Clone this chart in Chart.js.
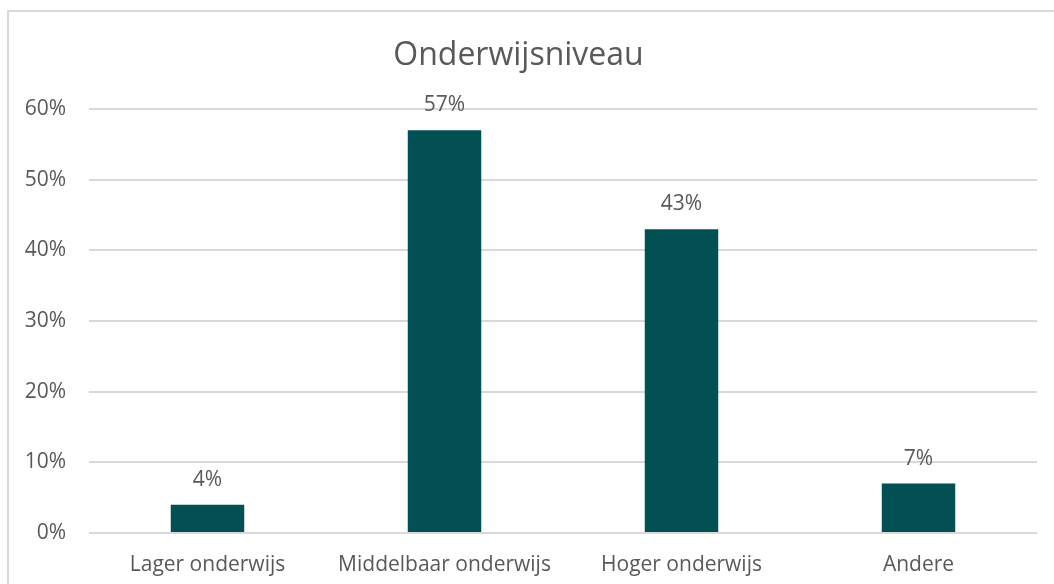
<!DOCTYPE html>
<html>
<head>
<meta charset="utf-8">
<script src="https://cdn.jsdelivr.net/npm/chart.js@4/dist/chart.umd.min.js"></script>
<style>
html,body{margin:0;padding:0;background:#fff;}
#wrap{position:relative;width:1054px;height:584px;}
</style>
</head>
<body>
<div id="wrap"><canvas id="c" width="1054" height="584"></canvas></div>
<script>
const categories = ["Lager onderwijs", "Middelbaar onderwijs", "Hoger onderwijs", "Andere"];
const values = [4, 57, 43, 7];
const yTicks = [0, 10, 20, 30, 40, 50, 60];
const chartTitle = "Onderwijsniveau";

const textColor = '#595959';
const fontFamily = '"Open Sans", "Liberation Sans", sans-serif';

const borderPlugin = {
  id: 'frame',
  beforeDraw(chart) {
    const ctx = chart.ctx;
    ctx.save();
    ctx.fillStyle = '#fff';
    ctx.fillRect(0, 0, chart.width, chart.height);
    ctx.strokeStyle = '#d9d9d9';
    ctx.lineWidth = 2;
    ctx.strokeRect(8, 11, 1200, 800);
    ctx.restore();
  }
};

const labelPlugin = {
  id: 'dataLabels',
  afterDatasetsDraw(chart) {
    const ctx = chart.ctx;
    const meta = chart.getDatasetMeta(0);
    ctx.save();
    ctx.fillStyle = textColor;
    ctx.font = '21px ' + fontFamily;
    ctx.textAlign = 'center';
    ctx.textBaseline = 'middle';
    meta.data.forEach((bar, i) => {
      ctx.fillText(values[i] + '%', bar.x, bar.y - 25);
    });
    ctx.restore();
  }
};

new Chart(document.getElementById('c'), {
  type: 'bar',
  data: {
    labels: categories,
    datasets: [{
      data: values,
      backgroundColor: '#024F54',
      borderWidth: 0,
      categoryPercentage: 1,
      barPercentage: 0.31
    }]
  },
  options: {
    responsive: false,
    animation: false,
    layout: { padding: { left: 0, right: 17, top: 0, bottom: 0 } },
    plugins: {
      legend: { display: false },
      tooltip: { enabled: false },
      title: {
        display: true,
        text: chartTitle,
        color: textColor,
        font: { family: fontFamily, size: 32, weight: 'normal', lineHeight: 1.2 },
        padding: { top: 37, bottom: 33.6 }
      }
    },
    scales: {
      y: {
        min: 0,
        max: 60,
        afterFit(scale) { scale.width = 89; },
        afterBuildTicks(scale) { scale.ticks = yTicks.map(v => ({ value: v })); },
        border: { display: false },
        grid: { color: '#d9d9d9', lineWidth: 2, drawTicks: false },
        ticks: {
          color: textColor,
          padding: 23,
          font: { family: fontFamily, size: 21 },
          callback: v => v + '%'
        }
      },
      x: {
        afterFit(scale) { scale.height = 51; },
        border: { display: false },
        grid: { display: false, drawTicks: false },
        ticks: {
          color: textColor,
          padding: 19,
          font: { family: fontFamily, size: 21 }
        }
      }
    }
  },
  plugins: [borderPlugin, labelPlugin]
});
</script>
</body>
</html>
